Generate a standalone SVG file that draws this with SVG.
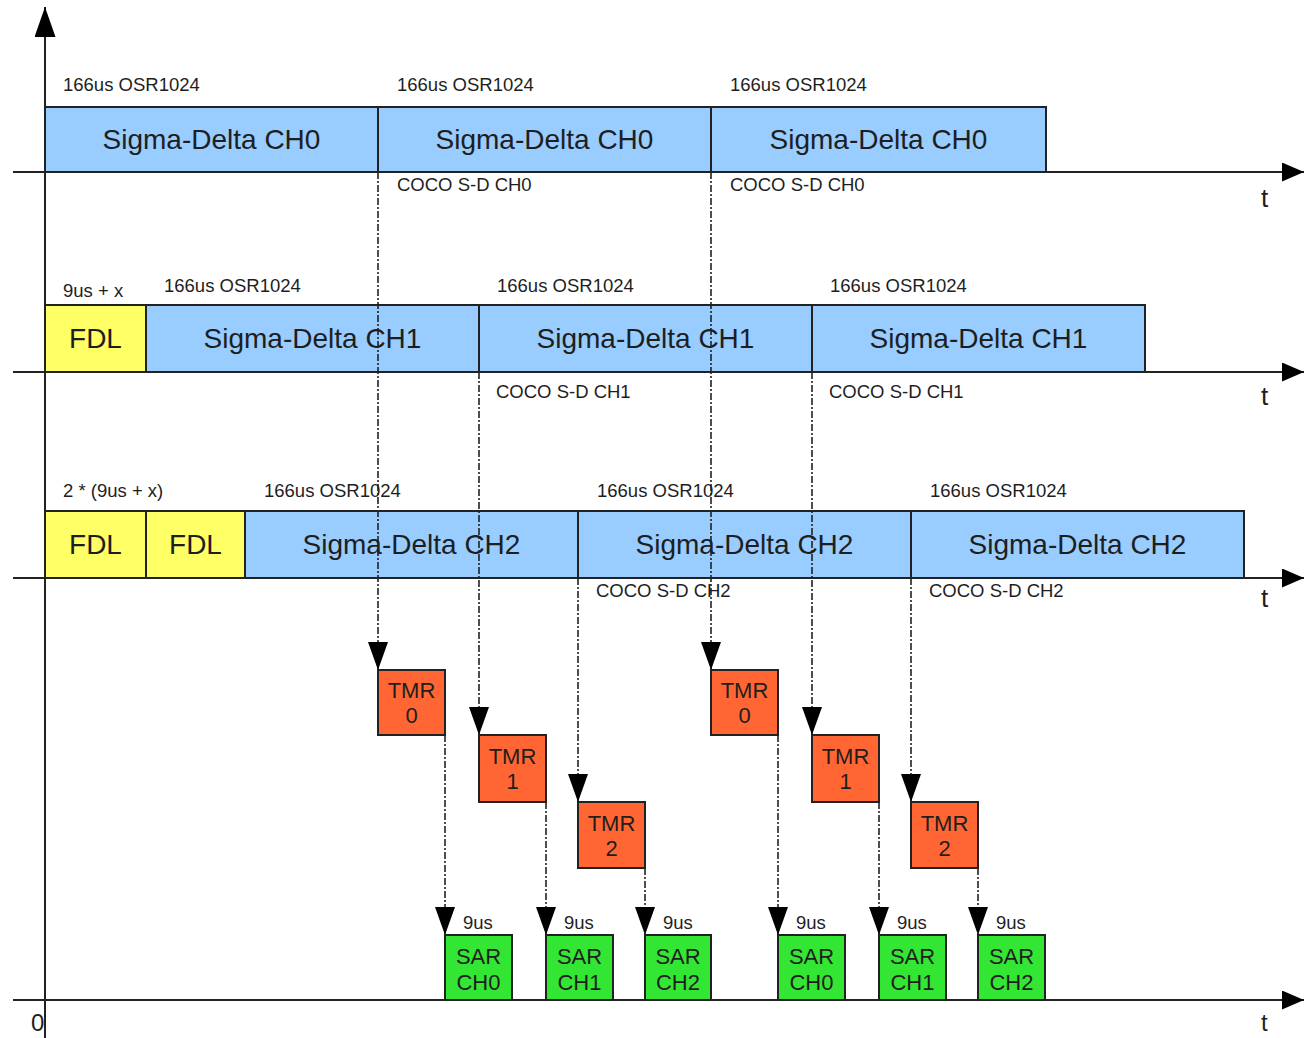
<svg xmlns="http://www.w3.org/2000/svg" width="1304" height="1038" viewBox="0 0 1304 1038">
<style>
text{font-family:"Liberation Sans",Arial,sans-serif;fill:#1e1e1e}
.big{font-size:28px;text-anchor:middle}
.mid{font-size:22px;text-anchor:middle}
.sm{font-size:18.5px}
.t{font-size:26px}
.sd rect{fill:#99ccff;stroke:#222;stroke-width:2}
.fdl rect{fill:#ffff66;stroke:#222;stroke-width:2}
.tmr rect{fill:#ff6633;stroke:#222;stroke-width:2}
.sar rect{fill:#33e633;stroke:#222;stroke-width:2}
.axis line{stroke:#222;stroke-width:2}
.conn path{stroke:#222;stroke-width:1.6;fill:none;stroke-dasharray:7 2 2 2}
</style>
<defs>
<marker id="ah" markerUnits="userSpaceOnUse" markerWidth="28" markerHeight="20" refX="28" refY="10" orient="auto"><path d="M0,0 L28,10 L0,20 z" fill="#000" stroke="none"/></marker>
<marker id="ax" markerUnits="userSpaceOnUse" markerWidth="22" markerHeight="19" refX="22" refY="9.5" orient="auto"><path d="M0,0 L22,9.5 L0,19 z" fill="#000" stroke="none"/></marker>
<marker id="ay" markerUnits="userSpaceOnUse" markerWidth="30" markerHeight="21" refX="30" refY="10.5" orient="auto"><path d="M0,0 L30,10.5 L0,21 z" fill="#000" stroke="none"/></marker>
</defs>

<g id="axes" class="axis">
<line x1="45" y1="1038" x2="45" y2="7" marker-end="url(#ay)"/>
<line x1="13" y1="172" x2="1304" y2="172" marker-end="url(#ax)"/>
<line x1="13" y1="372" x2="1304" y2="372" marker-end="url(#ax)"/>
<line x1="13" y1="578" x2="1304" y2="578" marker-end="url(#ax)"/>
<line x1="13" y1="1000" x2="1304" y2="1000" marker-end="url(#ax)"/>
</g>
<g id="axis-labels">
<text class="t" x="1261" y="207">t</text>
<text class="t" x="1261" y="405">t</text>
<text class="t" x="1261" y="607">t</text>
<text class="t" x="1261" y="1031" style="font-size:24px">t</text>
<text class="t" x="31" y="1031" style="font-size:24px">0</text>
</g>

<g id="row0">
<g id="sd0a" class="sd"><rect x="45" y="107" width="333" height="65"/><text class="big" x="211.5" y="149">Sigma-Delta CH0</text></g>
<g id="sd0b" class="sd"><rect x="378" y="107" width="333" height="65"/><text class="big" x="544.5" y="149">Sigma-Delta CH0</text></g>
<g id="sd0c" class="sd"><rect x="711" y="107" width="335" height="65"/><text class="big" x="878.5" y="149">Sigma-Delta CH0</text></g>
<text class="sm" x="63" y="91">166us OSR1024</text>
<text class="sm" x="397" y="91">166us OSR1024</text>
<text class="sm" x="730" y="91">166us OSR1024</text>
<text class="sm" x="397" y="191">COCO S-D CH0</text>
<text class="sm" x="730" y="191">COCO S-D CH0</text>
</g>

<g id="row1">
<g id="fdl1" class="fdl"><rect x="45" y="305" width="101" height="67"/><text class="big" x="95.5" y="348">FDL</text></g>
<g id="sd1a" class="sd"><rect x="146" y="305" width="333" height="67"/><text class="big" x="312.5" y="348">Sigma-Delta CH1</text></g>
<g id="sd1b" class="sd"><rect x="479" y="305" width="333" height="67"/><text class="big" x="645.5" y="348">Sigma-Delta CH1</text></g>
<g id="sd1c" class="sd"><rect x="812" y="305" width="333" height="67"/><text class="big" x="978.5" y="348">Sigma-Delta CH1</text></g>
<text class="sm" x="63" y="297">9us + x</text>
<text class="sm" x="164" y="292">166us OSR1024</text>
<text class="sm" x="497" y="292">166us OSR1024</text>
<text class="sm" x="830" y="292">166us OSR1024</text>
<text class="sm" x="496" y="398">COCO S-D CH1</text>
<text class="sm" x="829" y="398">COCO S-D CH1</text>
</g>

<g id="row2">
<g id="fdl2a" class="fdl"><rect x="45" y="511" width="101" height="67"/><text class="big" x="95.5" y="554">FDL</text></g>
<g id="fdl2b" class="fdl"><rect x="146" y="511" width="99" height="67"/><text class="big" x="195.5" y="554">FDL</text></g>
<g id="sd2a" class="sd"><rect x="245" y="511" width="333" height="67"/><text class="big" x="411.5" y="554">Sigma-Delta CH2</text></g>
<g id="sd2b" class="sd"><rect x="578" y="511" width="333" height="67"/><text class="big" x="744.5" y="554">Sigma-Delta CH2</text></g>
<g id="sd2c" class="sd"><rect x="911" y="511" width="333" height="67"/><text class="big" x="1077.5" y="554">Sigma-Delta CH2</text></g>
<text class="sm" x="63" y="497">2 * (9us + x)</text>
<text class="sm" x="264" y="497">166us OSR1024</text>
<text class="sm" x="597" y="497">166us OSR1024</text>
<text class="sm" x="930" y="497">166us OSR1024</text>
<text class="sm" x="596" y="597">COCO S-D CH2</text>
<text class="sm" x="929" y="597">COCO S-D CH2</text>
</g>

<g id="tmr0a" class="tmr"><rect x="378" y="670" width="67" height="65"/><text class="mid" x="411.5" y="698">TMR</text><text class="mid" x="411.5" y="723">0</text></g>
<g id="tmr1a" class="tmr"><rect x="479" y="735" width="67" height="67"/><text class="mid" x="512.5" y="764">TMR</text><text class="mid" x="512.5" y="789">1</text></g>
<g id="tmr2a" class="tmr"><rect x="578" y="802" width="67" height="66"/><text class="mid" x="611.5" y="831">TMR</text><text class="mid" x="611.5" y="856">2</text></g>
<g id="tmr0b" class="tmr"><rect x="711" y="670" width="67" height="65"/><text class="mid" x="744.5" y="698">TMR</text><text class="mid" x="744.5" y="723">0</text></g>
<g id="tmr1b" class="tmr"><rect x="812" y="735" width="67" height="67"/><text class="mid" x="845.5" y="764">TMR</text><text class="mid" x="845.5" y="789">1</text></g>
<g id="tmr2b" class="tmr"><rect x="911" y="802" width="67" height="66"/><text class="mid" x="944.5" y="831">TMR</text><text class="mid" x="944.5" y="856">2</text></g>

<g id="sar0a" class="sar"><rect x="445" y="935" width="67" height="65"/><text class="mid" x="478.5" y="964">SAR</text><text class="mid" x="478.5" y="990">CH0</text><text class="sm" x="463" y="929">9us</text></g>
<g id="sar1a" class="sar"><rect x="546" y="935" width="67" height="65"/><text class="mid" x="579.5" y="964">SAR</text><text class="mid" x="579.5" y="990">CH1</text><text class="sm" x="564" y="929">9us</text></g>
<g id="sar2a" class="sar"><rect x="645" y="935" width="66" height="65"/><text class="mid" x="678" y="964">SAR</text><text class="mid" x="678" y="990">CH2</text><text class="sm" x="663" y="929">9us</text></g>
<g id="sar0b" class="sar"><rect x="778" y="935" width="67" height="65"/><text class="mid" x="811.5" y="964">SAR</text><text class="mid" x="811.5" y="990">CH0</text><text class="sm" x="796" y="929">9us</text></g>
<g id="sar1b" class="sar"><rect x="879" y="935" width="67" height="65"/><text class="mid" x="912.5" y="964">SAR</text><text class="mid" x="912.5" y="990">CH1</text><text class="sm" x="897" y="929">9us</text></g>
<g id="sar2b" class="sar"><rect x="978" y="935" width="67" height="65"/><text class="mid" x="1011.5" y="964">SAR</text><text class="mid" x="1011.5" y="990">CH2</text><text class="sm" x="996" y="929">9us</text></g>

<g id="connectors" class="conn">
<path d="M378,172 V670" marker-end="url(#ah)"/>
<path d="M479,372 V735" marker-end="url(#ah)"/>
<path d="M578,578 V802" marker-end="url(#ah)"/>
<path d="M711,172 V670" marker-end="url(#ah)"/>
<path d="M812,372 V735" marker-end="url(#ah)"/>
<path d="M911,578 V802" marker-end="url(#ah)"/>
<path d="M445,735 V935" marker-end="url(#ah)"/>
<path d="M546,802 V935" marker-end="url(#ah)"/>
<path d="M645,868 V935" marker-end="url(#ah)"/>
<path d="M778,735 V935" marker-end="url(#ah)"/>
<path d="M879,802 V935" marker-end="url(#ah)"/>
<path d="M978,868 V935" marker-end="url(#ah)"/>
</g>
</svg>
